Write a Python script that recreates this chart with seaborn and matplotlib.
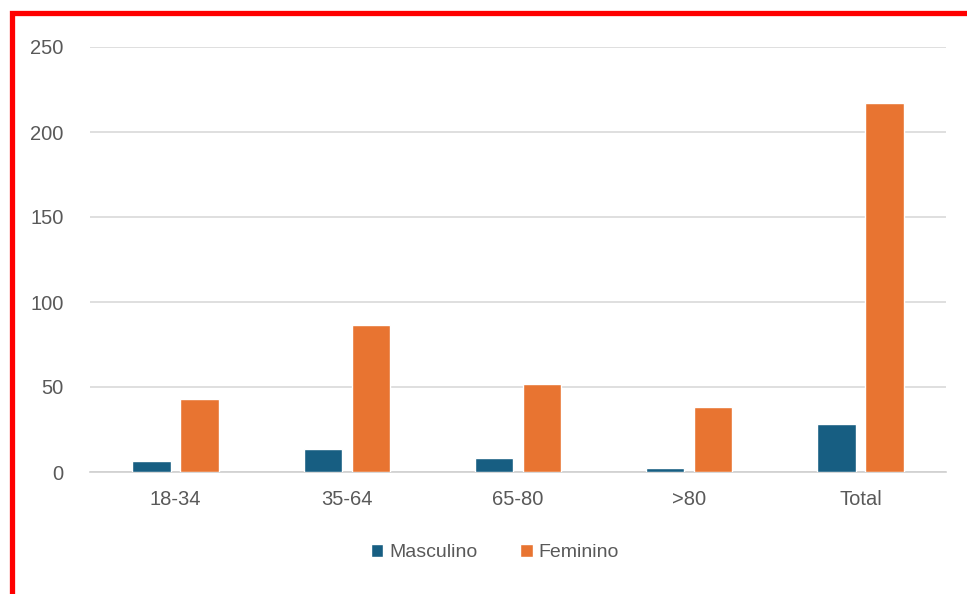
import pandas as pd
import matplotlib.pyplot as plt
import seaborn as sns
from matplotlib.patches import Rectangle

# Data
categories = ["18-34", "35-64", "65-80", ">80", "Total"]
masculino = [6.5, 13.5, 8.5, 2.5, 28.5]
feminino = [43, 86.5, 52, 38, 217]
series_names = ["Masculino", "Feminino"]
palette = ["#175E82", "#E87431"]

df = pd.DataFrame({
    "faixa": categories * 2,
    "valor": masculino + feminino,
    "sexo": [series_names[0]] * len(categories) + [series_names[1]] * len(categories),
})

sns.set_theme(style="white")
plt.rcParams["font.family"] = ["Liberation Sans", "DejaVu Sans"]

fig = plt.figure(figsize=(9.67, 5.94), dpi=100)
ax = fig.add_axes([90 / 967, 1 - 472 / 594, (946 - 90) / 967, (472 - 47) / 594])

sns.barplot(data=df, x="faixa", y="valor", hue="sexo", palette=palette,
            width=0.56, gap=0.2, saturation=1, ax=ax, zorder=3)

ax.set_ylim(0, 250)
ax.set_yticks(range(0, 251, 50))
ax.yaxis.grid(True, color="#D9D9D9", linewidth=1.2, zorder=0)
ax.set_axisbelow(True)
for s in ["left", "right", "top"]:
    ax.spines[s].set_visible(False)
ax.spines["bottom"].set_color("#D0D0D0")
ax.spines["bottom"].set_linewidth(1.2)
ax.set_xlabel("")
ax.set_ylabel("")
ax.tick_params(axis="y", length=0, pad=19, labelsize=14.5, labelcolor="#595959")
ax.tick_params(axis="x", length=0, pad=13, labelsize=14.5, labelcolor="#595959")

handles, labels = ax.get_legend_handles_labels()
ax.legend(handles, labels, loc="center", bbox_to_anchor=(0.473, -0.19),
          ncol=2, frameon=False, fontsize=14, handlelength=0.65, handleheight=0.65,
          handletextpad=0.3, columnspacing=2.2, labelcolor="#595959")

# red frame like the screenshot
fig.patches.append(Rectangle((11.5 / 967, -0.1), 1.2, 1 - 13.5 / 594 + 0.1,
                             transform=fig.transFigure, fill=False,
                             edgecolor="#FF0000", linewidth=3.8, zorder=10))

fig.savefig("out.png", dpi=100)
